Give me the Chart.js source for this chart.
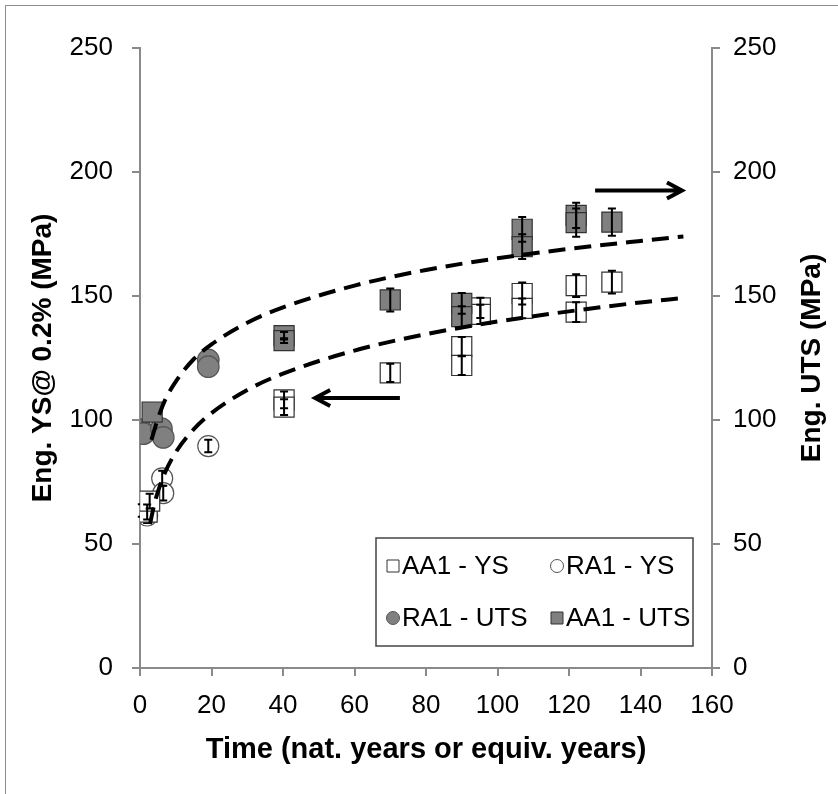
<!DOCTYPE html>
<html lang="en">
<head>
<meta charset="utf-8">
<title>Eng. YS and UTS vs time</title>
<script src="https://cdn.jsdelivr.net/npm/chart.js@4.4.1/dist/chart.umd.min.js"></script>
<style>
  html, body { margin: 0; padding: 0; background: #fff; overflow: hidden; }
  #frame { position: absolute; left: 5px; top: 5px; width: 900px; height: 900px; border: 1px solid #8c8c8c; }
  #wrap { position: absolute; left: 0; top: 0; width: 838px; height: 794px; }
</style>
</head>
<body>
<div id="frame"></div>
<div id="wrap"><canvas id="chart"></canvas></div>
<script>
// AA1 - YS (open squares)
const aa1YsTime = [2, 2.7, 40.3, 40.3, 70, 90, 90, 95.2, 95.2, 106.9, 106.9, 122, 122, 132];
const aa1YsVal  = [62.9, 67.3, 108.1, 105.2, 119, 129.6, 122, 145.2, 142.6, 151, 145, 154.2, 143.5, 155.6];
const aa1YsErr  = [3, 3, 3.4, 3.2, 3.7, 3.9, 3.9, 4.1, 3.9, 4.4, 4, 4.6, 4, 4.6];

// RA1 - YS (open circles)
const ra1YsTime = [0.5, 2, 6.2, 6.5, 19.1];
const ra1YsVal  = [63.5, 61.5, 76.5, 70.5, 89.5];
const ra1YsErr  = [2.5, 3, 3, 3, 2.5];

// RA1 - UTS (grey circles)
const ra1UtsTime = [0.3, 1, 6, 6.5, 19.1, 19.1];
const ra1UtsVal  = [96, 94.5, 96.5, 93, 124.2, 121.5];

// AA1 - UTS (grey squares)
const aa1UtsTime = [3.4, 40.3, 40.3, 70, 90, 90, 106.9, 106.9, 122, 122, 132];
const aa1UtsVal  = [103.2, 134, 132, 148.4, 147, 141.7, 176.9, 169.9, 182.5, 179.6, 179.8];
const aa1UtsErr  = [0, 1.5, 1, 4.6, 4.2, 4.2, 5, 5, 5.1, 5.7, 5.5];

// dashed trend lines
const upperTime = [3.2, 5, 7, 10, 15, 20, 30, 40, 60, 80, 100, 120, 140, 152];
const upperVal  = [92, 100.5, 108, 115.5, 124.5, 130.5, 139.2, 145.4, 154.2, 160.5, 165.2, 169, 172.2, 174];
const lowerTime = [2.8, 4, 5, 7, 10, 15, 20, 30, 40, 60, 80, 100, 120, 140, 152];
const lowerVal  = [58, 66, 71, 78.8, 87, 96.2, 102.8, 112.1, 118.7, 128, 134.6, 139.7, 143.8, 147.4, 149.2];

// arrows: [x0, x1, y] in data units
const arrowRight = [127.3, 151.6, 192.5];
const arrowLeft  = [72.7, 49, 108.9];

const legendOrder = ['AA1 - YS', 'RA1 - YS', 'RA1 - UTS', 'AA1 - UTS'];

const pts = (xs, ys) => xs.map((x, i) => ({x: x, y: ys[i]}));

const GREY = '#808080';
const EDGE = '#333';

const errorBars = {
  id: 'errorBars',
  afterDatasetDraw(chart, args) {
    const ds = chart.data.datasets[args.index];
    if (!ds.errors) return;
    const ctx = chart.ctx;
    const ys = chart.scales.y;
    ctx.save();
    ctx.strokeStyle = '#000';
    ctx.lineWidth = 2;
    args.meta.data.forEach((p, i) => {
      const v = ds.data[i].y, e = ds.errors[i];
      if (!e) return;
      const t = ys.getPixelForValue(v + e), b = ys.getPixelForValue(v - e);
      ctx.beginPath();
      ctx.moveTo(p.x, t); ctx.lineTo(p.x, b);
      ctx.moveTo(p.x - 4, t); ctx.lineTo(p.x + 4, t);
      ctx.moveTo(p.x - 4, b); ctx.lineTo(p.x + 4, b);
      ctx.stroke();
    });
    ctx.restore();
  }
};

function drawArrow(ctx, x0, x1, y) {
  const dir = x1 > x0 ? 1 : -1;
  ctx.beginPath();
  ctx.moveTo(x0, y); ctx.lineTo(x1, y);
  ctx.moveTo(x1 - dir * 15, y - 8); ctx.lineTo(x1, y); ctx.lineTo(x1 - dir * 15, y + 8);
  ctx.stroke();
}

const extras = {
  id: 'extras',
  afterDatasetsDraw(chart) {
    const {ctx, chartArea, scales: {x, y}} = chart;
    ctx.save();
    ctx.strokeStyle = '#000';
    ctx.lineWidth = 4;
    [arrowRight, arrowLeft].forEach(a => {
      drawArrow(ctx, x.getPixelForValue(a[0]), x.getPixelForValue(a[1]), y.getPixelForValue(a[2]));
    });

    // legend box
    const w = 317, h = 108;
    const bx = chartArea.right - 19 - w, by = chartArea.bottom - 22 - h;
    ctx.fillStyle = '#fff';
    ctx.fillRect(bx, by, w, h);
    ctx.strokeStyle = '#444';
    ctx.lineWidth = 1.5;
    ctx.strokeRect(bx, by, w, h);
    ctx.font = '26px "Liberation Sans", Arial, sans-serif';
    ctx.textBaseline = 'middle';
    legendOrder.forEach((label, i) => {
      const ds = chart.data.datasets.find(d => d.label === label);
      const col = i % 2, row = Math.floor(i / 2);
      const mx = bx + 17 + col * 164, my = by + 28 + row * 52;
      ctx.fillStyle = ds.backgroundColor;
      ctx.strokeStyle = ds.borderColor;
      ctx.lineWidth = 1;
      ctx.beginPath();
      if (ds.pointStyle === 'rect') ctx.rect(mx - 6, my - 6, 12, 12);
      else ctx.arc(mx, my, 6.5, 0, Math.PI * 2);
      ctx.fill(); ctx.stroke();
      ctx.fillStyle = '#000';
      ctx.fillText(label, mx + 9, my + 1);
    });

    // right axis title, read bottom to top like the left one
    ctx.save();
    ctx.translate(chart.width - 26, (chartArea.top + chartArea.bottom) / 2);
    ctx.rotate(-Math.PI / 2);
    ctx.font = 'bold 28px "Liberation Sans", Arial, sans-serif';
    ctx.textAlign = 'center';
    ctx.fillStyle = '#000';
    ctx.fillText('Eng. UTS (MPa)', 0, 0);
    ctx.restore();
    ctx.restore();
  }
};

const tickFont = {family: '"Liberation Sans", Arial, sans-serif', size: 26};
const titleFont = {family: '"Liberation Sans", Arial, sans-serif', size: 28, weight: 'bold'};
const axisGrid = {drawOnChartArea: false, drawTicks: true, tickLength: 8, color: '#8a8a8a', lineWidth: 2};
const axisBorder = {display: true, color: '#8a8a8a', width: 2};

new Chart(document.getElementById('chart'), {
  type: 'scatter',
  data: {
    datasets: [
      {
        type: 'line', label: 'upper fit', data: pts(upperTime, upperVal), order: 0,
        borderColor: '#000', borderWidth: 4, borderDash: [17, 9], pointRadius: 0,
        cubicInterpolationMode: 'monotone', fill: false, yAxisID: 'y'
      },
      {
        type: 'line', label: 'lower fit', data: pts(lowerTime, lowerVal), order: 0,
        borderColor: '#000', borderWidth: 4, borderDash: [17, 9], pointRadius: 0,
        cubicInterpolationMode: 'monotone', fill: false, yAxisID: 'y'
      },
      {
        label: 'AA1 - UTS', data: pts(aa1UtsTime, aa1UtsVal), errors: aa1UtsErr, order: 1,
        pointStyle: 'rect', pointRadius: 14.2, backgroundColor: GREY, borderColor: EDGE, borderWidth: 1.2
      },
      {
        label: 'RA1 - UTS', data: pts(ra1UtsTime, ra1UtsVal), order: 2,
        pointStyle: 'circle', pointRadius: 10.8, backgroundColor: GREY, borderColor: '#555', borderWidth: 1.2
      },
      {
        label: 'AA1 - YS', data: pts(aa1YsTime, aa1YsVal), errors: aa1YsErr, order: 3,
        pointStyle: 'rect', pointRadius: 14.2, backgroundColor: '#fff', borderColor: EDGE, borderWidth: 1.2
      },
      {
        label: 'RA1 - YS', data: pts(ra1YsTime, ra1YsVal), errors: ra1YsErr, order: 4,
        pointStyle: 'circle', pointRadius: 10.5, backgroundColor: '#fff', borderColor: '#555', borderWidth: 1.2
      }
    ]
  },
  options: {
    responsive: true,
    maintainAspectRatio: false,
    animation: false,
    layout: {padding: {top: 48, left: 0, right: 0, bottom: 0}},
    plugins: {legend: {display: false}, tooltip: {enabled: false}},
    scales: {
      x: {
        type: 'linear', min: 0, max: 160,
        ticks: {stepSize: 20, color: '#000', font: tickFont, padding: 14},
        grid: axisGrid, border: axisBorder,
        title: {display: true, text: 'Time (nat. years or equiv. years)', color: '#000',
                font: {family: titleFont.family, size: 29, weight: 'bold'}, padding: {top: 0, bottom: 27}},
        afterFit: s => { s.height = 126; }
      },
      y: {
        type: 'linear', position: 'left', min: 0, max: 250,
        ticks: {stepSize: 50, color: '#000', font: tickFont, padding: 19},
        grid: axisGrid, border: axisBorder,
        title: {display: true, text: 'Eng. YS@ 0.2% (MPa)', color: '#000', font: titleFont, padding: {top: 26, bottom: 0}},
        afterFit: s => { s.width = 140; }
      },
      y2: {
        type: 'linear', position: 'right', min: 0, max: 250,
        ticks: {stepSize: 50, color: '#000', font: tickFont, padding: 13},
        grid: axisGrid, border: axisBorder,
        afterFit: s => { s.width = 126; }
      }
    }
  },
  plugins: [errorBars, extras]
});
</script>
</body>
</html>
